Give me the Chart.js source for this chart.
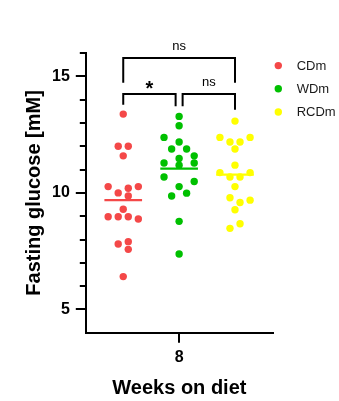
<!DOCTYPE html>
<html>
<head>
<meta charset="utf-8">
<script src="https://cdn.jsdelivr.net/npm/chart.js@4.4.1/dist/chart.umd.min.js"></script>
<style>
html,body{margin:0;padding:0;background:#fff;}
#wrap{width:339px;height:401px;}
</style>
</head>
<body>
<div id="wrap"><canvas id="c" width="339" height="401"></canvas></div>
<script>
// ---------- data ----------
const groups = ['CDm', 'WDm', 'RCDm'];
const xTickLabels = ['8'];
const yTickLabels = ['5', '10', '15'];
const yLabelTitle = 'Fasting glucose [mM]';
const xLabelTitle = 'Weeks on diet';

const cdmValues  = [13.38, 12.0, 12.0, 11.59, 10.27, 10.27, 10.0, 10.2, 9.87, 9.3, 8.98, 8.98, 8.98, 8.88, 7.81, 7.91, 7.58, 6.41];
const wdmValues  = [13.28, 12.88, 12.38, 12.18, 11.88, 11.88, 11.59, 11.48, 11.28, 11.28, 11.19, 10.68, 10.49, 10.27, 9.99, 9.87, 8.78, 7.38];
const rcdmValues = [13.08, 12.38, 12.38, 12.18, 12.18, 11.88, 11.19, 10.87, 10.87, 10.68, 10.68, 10.27, 9.79, 9.59, 9.69, 9.28, 8.68, 8.48];

// horizontal scatter of each dot inside its column (category units)
const cdmSpread  = [0, -0.09, 0.09, 0, -0.27, 0.27, -0.09, 0.09, 0.09, 0, -0.27, -0.09, 0.09, 0.27, -0.09, 0.09, 0.09, 0];
const wdmSpread  = [0, 0, -0.27, 0, -0.134, 0.134, 0.27, 0, -0.27, 0.27, 0, -0.27, 0.27, 0, 0.134, -0.134, 0, 0];
const rcdmSpread = [0, -0.27, 0.27, -0.09, 0.09, 0, 0, -0.27, 0.27, -0.09, 0.09, 0, -0.09, 0.09, 0.27, 0, 0.09, -0.09];

// significance comparisons: [groupA, groupB, label]
const comparisonPairs  = [[0, 2], [0, 1], [1, 2]];
const comparisonLabels = ['ns', '*', 'ns'];
// bracket heights (y units): bar level, left leg end, right leg end
const bracketLevels = [[15.79, 14.72, 14.72], [14.24, 13.78, 13.72], [14.24, 13.72, 13.57]];

// ---------- styles ----------
const groupColors = ['#F44848', '#00C000', '#FFFF00'];
const FONT = 'Arial, "Liberation Sans", sans-serif';

const valueSets = [cdmValues, wdmValues, rcdmValues];
const spreadSets = [cdmSpread, wdmSpread, rcdmSpread];
const mean = a => a.reduce((s, v) => s + v, 0) / a.length;

const datasets = [];
groups.forEach((g, i) => {
  datasets.push({
    type: 'scatter',
    label: g,
    data: valueSets[i].map((v, k) => ({ x: i + 1 + spreadSets[i][k], y: v })),
    backgroundColor: groupColors[i],
    borderColor: groupColors[i],
    pointRadius: 3.7,
    pointBorderWidth: 0,
    pointHoverRadius: 3.7,
    order: 1
  });
});
groups.forEach((g, i) => {
  const m = mean(valueSets[i]);
  datasets.push({
    type: 'line',
    label: g + ' mean',
    data: [{ x: i + 1 - 0.337, y: m }, { x: i + 1 + 0.337, y: m }],
    borderColor: groupColors[i],
    borderWidth: 2.2,
    pointRadius: 0,
    fill: false,
    order: 2
  });
});

const extras = {
  id: 'extras',
  afterDraw(chart) {
    const ctx = chart.ctx;
    const xs = chart.scales.x, ys = chart.scales.y;
    const area = chart.chartArea;
    ctx.save();
    ctx.strokeStyle = '#000';
    ctx.fillStyle = '#000';
    ctx.lineWidth = 2;
    ctx.lineCap = 'butt';
    // y ticks (major + minor)
    ys.ticks.forEach(t => {
      if (t.value <= ys.min) return;
      const py = Math.round(ys.getPixelForValue(t.value));
      const major = yTickLabels.includes(String(t.value));
      const len = major ? 10 : 6;
      ctx.beginPath();
      ctx.moveTo(area.left - len, py);
      ctx.lineTo(area.left, py);
      ctx.stroke();
    });
    // x ticks
    xs.ticks.forEach(t => {
      const px = Math.round(xs.getPixelForValue(t.value));
      ctx.beginPath();
      ctx.moveTo(px, area.bottom);
      ctx.lineTo(px, area.bottom + 10);
      ctx.stroke();
    });
    // brackets
    comparisonPairs.forEach((pair, k) => {
      const [a, b] = pair;
      let x1 = xs.getPixelForValue(a + 1);
      let x2 = xs.getPixelForValue(b + 1);
      if (b - a === 1) {
        if (a === 1) x1 += 3.5;
        if (b === 1) x2 -= 3.5;
      }
      const lv = bracketLevels[k];
      const yBar = ys.getPixelForValue(lv[0]);
      ctx.beginPath();
      ctx.moveTo(x1, ys.getPixelForValue(lv[1]));
      ctx.lineTo(x1, yBar);
      ctx.lineTo(x2, yBar);
      ctx.lineTo(x2, ys.getPixelForValue(lv[2]));
      ctx.stroke();
      const lab = comparisonLabels[k];
      ctx.textAlign = 'center';
      ctx.textBaseline = 'alphabetic';
      if (lab === '*') {
        ctx.font = 'bold 20px ' + FONT;
        ctx.fillText(lab, (x1 + x2) / 2, yBar + 0.5);
      } else {
        ctx.font = '13px ' + FONT;
        ctx.fillText(lab, (x1 + x2) / 2, yBar - 8);
      }
    });
    // legend
    groups.forEach((g, i) => {
      const cy = area.top + 12.6 + i * 23.2;
      const cx = area.right + 5.3;
      ctx.beginPath();
      ctx.fillStyle = groupColors[i];
      ctx.arc(cx, cy, 3.7, 0, Math.PI * 2);
      ctx.fill();
      ctx.fillStyle = '#1a1a1a';
      ctx.font = '13px ' + FONT;
      ctx.textAlign = 'left';
      ctx.textBaseline = 'middle';
      ctx.fillText(g, cx + 18.4, cy + 0.5);
    });
    ctx.restore();
  }
};

new Chart(document.getElementById('c'), {
  data: { datasets },
  options: {
    responsive: false,
    animation: false,
    events: [],
    layout: { padding: { left: 18, right: 66, top: 53, bottom: 0 } },
    plugins: { legend: { display: false }, tooltip: { enabled: false } },
    scales: {
      x: {
        type: 'linear',
        min: 0.33,
        max: 3.68,
        afterBuildTicks: axis => { axis.ticks = xTickLabels.map((l, i) => ({ value: 2 + i })); },
        ticks: {
          callback: (v, i) => xTickLabels[i] !== undefined ? xTickLabels[i] : '',
          font: { family: FONT, size: 16, weight: 'bold' },
          color: '#000',
          padding: 0,
          autoSkip: false,
          maxRotation: 0
        },
        grid: { display: true, drawOnChartArea: false, drawTicks: true, tickLength: 15, tickColor: 'rgba(0,0,0,0)' },
        border: { display: true, width: 2, color: '#000' },
        title: {
          display: true,
          text: xLabelTitle,
          font: { family: FONT, size: 20, weight: 'bold' },
          color: '#000',
          padding: { top: 9, bottom: 1 }
        }
      },
      y: {
        type: 'linear',
        min: 4,
        max: 16,
        ticks: {
          stepSize: 1,
          autoSkip: false,
          callback: v => yTickLabels.includes(String(v)) ? String(v) : '',
          font: { family: FONT, size: 16, weight: 'bold' },
          color: '#000',
          padding: 0
        },
        grid: { display: true, drawOnChartArea: false, drawTicks: true, tickLength: 16, tickColor: 'rgba(0,0,0,0)' },
        border: { display: true, width: 2, color: '#000' },
        title: {
          display: true,
          text: yLabelTitle,
          font: { family: FONT, size: 20, weight: 'bold' },
          color: '#000',
          padding: { top: 4, bottom: 6 }
        }
      }
    }
  },
  plugins: [extras]
});
</script>
</body>
</html>
